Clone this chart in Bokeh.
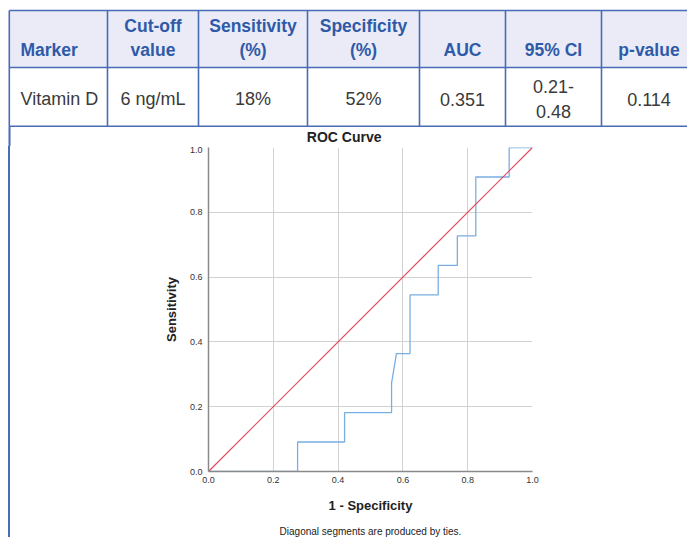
from bokeh.plotting import figure
from bokeh.layouts import column, row
from bokeh.models import Range1d, FixedTicker, PrintfTickFormatter, Title, Spacer
from bokeh.core.properties import value
from bokeh.embed import file_html
from bokeh.resources import INLINE

# ---------------- data ----------------
headers = ["Marker", "Cut-off\nvalue", "Sensitivity\n(%)", "Specificity\n(%)", "AUC", "95% CI", "p-value"]
row_values = ["Vitamin D", "6 ng/mL", "18%", "52%", "0.351", "0.21-\n0.48", "0.114"]
chart_title = "ROC Curve"
caption = "Diagonal segments are produced by ties."

# ROC curve (1 - specificity, sensitivity)
fpr = [0.0, 0.275, 0.275, 0.42, 0.42, 0.565, 0.565, 0.58, 0.622, 0.622,
       0.709, 0.709, 0.768, 0.768, 0.825, 0.825, 0.928, 0.928, 1.0]
tpr = [0.0, 0.0, 0.091, 0.091, 0.182, 0.182, 0.273, 0.364, 0.364, 0.545,
       0.545, 0.636, 0.636, 0.727, 0.727, 0.909, 0.909, 1.0, 1.0]
ref_x = [0.0, 1.0]
ref_y = [0.0, 1.0]
axis_ticks = [0.0, 0.2, 0.4, 0.6, 0.8, 1.0]

# ---------------- style / layout ----------------
FONT = "Liberation Sans"
BORDER = "#4a6bb5"
HEAD_BG = "#eaebf6"
HEAD_TXT = "#2f5aa8"
BODY_TXT = "#3a3a3a"

TOP_H = 146
col_edges = [8.8, 107, 198, 307, 419, 505, 601]
col_right = 696
txt_x = [20, 152.5, 252.5, 363, 462, 553, 648.5]
txt_align = ["left", "center", "center", "center", "center", "center", "center"]
row_top, row_mid, row_bot = 10, 67, 125.7

# ---------------- table figure (plus chart heading) ----------------
t = figure(width=687, height=TOP_H, x_range=Range1d(0, 687), y_range=Range1d(TOP_H, 0),
           output_backend="svg", toolbar_location=None, min_border=0,
           x_axis_type=None, y_axis_type=None, outline_line_color=None)
t.quad(left=col_edges[0], right=col_right, top=row_top, bottom=row_mid,
       fill_color=HEAD_BG, line_color=None)
t.segment(x0=[col_edges[0]] * 3, x1=[col_right] * 3,
          y0=[row_top, row_mid, row_bot], y1=[row_top, row_mid, row_bot],
          line_color=BORDER, line_width=1.6)
t.segment(x0=col_edges, x1=col_edges, y0=[row_top] * len(col_edges),
          y1=[row_bot] * len(col_edges),
          line_color=BORDER, line_width=1.6)
# left border continuing down beside the chart
t.quad(left=8, right=10, top=row_bot, bottom=TOP_H, fill_color=BORDER, line_color=None)
t.text(x=txt_x, y=[59.5] * 7, text=headers, text_align=txt_align,
       text_baseline="bottom", text_font=value(FONT), text_font_style="bold",
       text_font_size="17.5px", text_color=HEAD_TXT, text_line_height=1.2)
t.text(x=txt_x, y=[98.5] * 7, text=row_values, text_align=txt_align,
       text_baseline="middle", text_font=value(FONT), text_font_style="normal",
       text_font_size="18px", text_color=BODY_TXT, text_line_height=1.25)
t.text(x=[343.7], y=[136], text=[chart_title], text_align="center",
       text_baseline="middle", text_font=value(FONT), text_font_style="bold",
       text_font_size="14px", text_color="#222222")

# ---------------- ROC figure ----------------
P_H = 537 - TOP_H
p = figure(frame_width=324, frame_height=324, x_range=Range1d(0, 1), y_range=Range1d(0, 1),
           output_backend="svg", toolbar_location=None,
           min_border_left=198, min_border_right=155, min_border_top=1, min_border_bottom=66,
           outline_line_color=None)

for ax in (p.xaxis[0], p.yaxis[0]):
    ax.ticker = FixedTicker(ticks=axis_ticks, minor_ticks=[])
    ax.formatter = PrintfTickFormatter(format="%.1f")
    ax.major_tick_out = 0
    ax.major_tick_in = 0
    ax.minor_tick_out = 0
    ax.minor_tick_in = 0
    ax.major_label_standoff = 5
    ax.major_label_text_font = FONT
    ax.major_label_text_font_size = "9px"
    ax.major_label_text_color = "#333333"
    ax.axis_line_color = "#8a8a8a"
    ax.axis_line_width = 1.5
    ax.axis_label_text_font = FONT
    ax.axis_label_text_font_size = "13px"
    ax.axis_label_text_font_style = "bold"
    ax.axis_label_text_color = "#222222"
    ax.axis_label_standoff = 12
p.yaxis[0].major_label_standoff = 6
p.yaxis[0].axis_label_standoff = 8
p.xaxis.axis_label = "1 - Specificity"
p.yaxis.axis_label = "Sensitivity"

for g in (p.xgrid[0], p.ygrid[0]):
    g.ticker = FixedTicker(ticks=axis_ticks, minor_ticks=[])
    g.grid_line_color = "#d2d2d2"
    g.grid_line_width = 1

p.line(fpr, tpr, line_color="#7aaee2", line_width=1.3)
p.line(ref_x, ref_y, line_color="#e8475b", line_width=1.2)

p.add_layout(Title(text=caption, align="center", offset=-26,
                   standoff=17, text_font=FONT, text_font_size="10px",
                   text_font_style="normal", text_color="#222222"), "below")

left_pad = Spacer(width=8, height=P_H)
left_line = Spacer(width=2, height=P_H, styles={"background-color": BORDER})
layout = column(t, row(left_pad, left_line, p))

open("out.html", "w").write(file_html(layout, INLINE))
